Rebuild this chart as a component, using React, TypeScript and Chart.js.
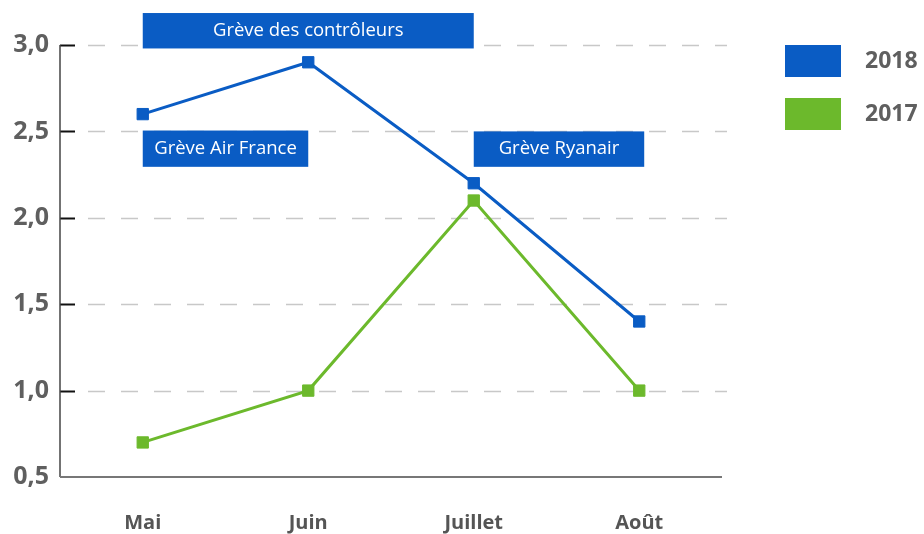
import React, { useEffect, useRef } from "react";
import { Chart, registerables } from "chart.js";

Chart.register(...registerables);

const months = ["Mai", "Juin", "Juillet", "Août"];
const series2018 = [2.6, 2.9, 2.2, 1.4];
const series2017 = [0.7, 1.0, 2.1, 1.0];
const seriesLabels = ["2018", "2017"];
const yTicks = [0.5, 1.0, 1.5, 2.0, 2.5, 3.0];

const noteTexts = ["Grève des contrôleurs", "Grève Air France", "Grève Ryanair"];
const noteXStart = [0, 0, 2];
const noteXEnd = [2, 1, 3.03];
const noteYTop = [3.185, 2.505, 2.5];
const noteYBottom = [2.98, 2.295, 2.295];

const BLUE = "#0a5cc4";
const GREEN = "#6cb92c";
const FONT = "'Open Sans', 'DejaVu Sans', sans-serif";

const customPlugin = {
  id: "custom",
  beforeDatasetsDraw(chart: any) {
    const ctx = chart.ctx;
    const y = chart.scales.y;
    const area = chart.chartArea;
    ctx.save();
    yTicks.forEach((v) => {
      if (v === y.min) return;
      const py = Math.round(y.getPixelForValue(v)) + 0.5;
      ctx.strokeStyle = "#111";
      ctx.lineWidth = 2;
      ctx.setLineDash([]);
      ctx.beginPath();
      ctx.moveTo(area.left, py);
      ctx.lineTo(area.left + 15, py);
      ctx.stroke();
      ctx.strokeStyle = "#c8c8c8";
      ctx.lineWidth = 1.5;
      ctx.setLineDash([17, 16]);
      ctx.beginPath();
      ctx.moveTo(area.left + 28, py);
      ctx.lineTo(area.right + 5, py);
      ctx.stroke();
    });
    ctx.setLineDash([]);
    // axes
    ctx.strokeStyle = "#444";
    ctx.lineWidth = 1.5;
    ctx.beginPath();
    ctx.moveTo(area.left, y.getPixelForValue(3.0));
    ctx.lineTo(area.left, area.bottom);
    ctx.stroke();
    ctx.strokeStyle = "#777";
    ctx.lineWidth = 2;
    ctx.beginPath();
    ctx.moveTo(area.left, area.bottom);
    ctx.lineTo(area.right, area.bottom);
    ctx.stroke();
    ctx.restore();
  },
  afterDatasetsDraw(chart: any) {
    const ctx = chart.ctx;
    const x = chart.scales.x;
    const y = chart.scales.y;
    ctx.save();
    const step = x.getPixelForValue(1) - x.getPixelForValue(0);
    noteTexts.forEach((t, i) => {
      const x0 = x.getPixelForValue(0) + noteXStart[i] * step;
      const x1 = x.getPixelForValue(0) + noteXEnd[i] * step;
      const y0 = y.getPixelForValue(noteYTop[i]);
      const y1 = y.getPixelForValue(noteYBottom[i]);
      ctx.fillStyle = BLUE;
      ctx.fillRect(x0, y0, x1 - x0, y1 - y0);
      ctx.fillStyle = "#ffffff";
      ctx.font = `18.5px ${FONT}`;
      ctx.textAlign = "center";
      ctx.textBaseline = "middle";
      ctx.fillText(t, (x0 + x1) / 2, (y0 + y1) / 2);
    });
    // legend
    const colors = [BLUE, GREEN];
    seriesLabels.forEach((lab, i) => {
      const top = 45 + i * 53;
      ctx.fillStyle = colors[i];
      ctx.fillRect(785, top, 56, 32);
      ctx.fillStyle = "#5f5f5f";
      ctx.font = `bold 23px ${FONT}`;
      ctx.textAlign = "left";
      ctx.textBaseline = "middle";
      ctx.fillText(lab, 865, top + 16);
    });
    ctx.restore();
  },
};

export default function App() {
  const ref = useRef<HTMLCanvasElement | null>(null);
  useEffect(() => {
    document.body.style.margin = "0";
    const chart = new Chart(ref.current as HTMLCanvasElement, {
      type: "line",
      data: {
        labels: months,
        datasets: [
          {
            label: seriesLabels[0],
            data: series2018,
            borderColor: BLUE,
            backgroundColor: BLUE,
            borderWidth: 3,
            pointStyle: "rect",
            pointRadius: 8,
            pointBorderWidth: 1,
            tension: 0,
          },
          {
            label: seriesLabels[1],
            data: series2017,
            borderColor: GREEN,
            backgroundColor: GREEN,
            borderWidth: 3,
            pointStyle: "rect",
            pointRadius: 8,
            pointBorderWidth: 1,
            tension: 0,
          },
        ],
      },
      options: {
        animation: false,
        responsive: true,
        maintainAspectRatio: false,
        layout: { padding: { top: 45, right: 202, left: 0, bottom: 0 } },
        plugins: { legend: { display: false }, tooltip: { enabled: false } },
        scales: {
          x: {
            offset: true,
            grid: { display: false, drawTicks: false },
            border: { display: false },
            ticks: {
              padding: 34,
              color: "#555",
              font: { family: FONT, size: 20, weight: "bold" },
            },
            afterFit: (s: any) => {
              s.height = 57;
            },
          },
          y: {
            min: 0.5,
            max: 3.0,
            grid: { display: false, drawTicks: false },
            border: { display: false },
            ticks: {
              stepSize: 0.5,
              padding: 11,
              color: "#5f5f5f",
              font: { family: FONT, size: 25, weight: "bold" },
              callback: (v: any) => Number(v).toFixed(1).replace(".", ","),
            },
            afterFit: (s: any) => {
              s.width = 60;
            },
          },
        },
      },
      plugins: [customPlugin],
    });
    return () => chart.destroy();
  }, []);
  return (
    <div style={{ position: "absolute", left: 0, top: 0, width: 924, height: 534 }}>
      <canvas ref={ref} />
    </div>
  );
}
